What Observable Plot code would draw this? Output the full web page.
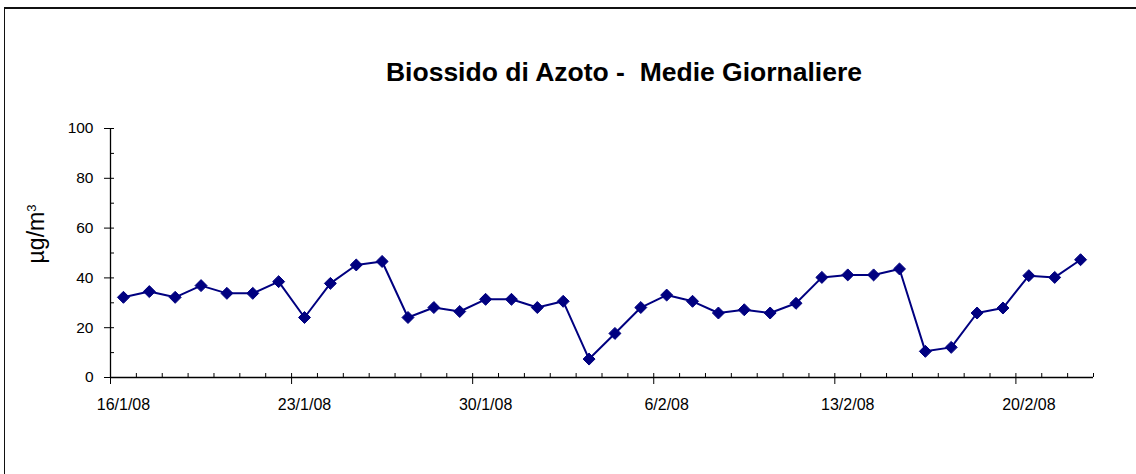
<!DOCTYPE html>
<html>
<head>
<meta charset="utf-8">
<script src="https://cdn.jsdelivr.net/npm/d3@7"></script>
<script src="https://cdn.jsdelivr.net/npm/@observablehq/plot@0.6"></script>
<style>
  html, body { margin: 0; padding: 0; background: #fff; }
  #wrap { position: relative; width: 1136px; height: 474px; overflow: hidden; font-family: "Liberation Sans", Arial, sans-serif; }
  #border { position: absolute; left: 4px; top: 7px; width: 1200px; height: 600px; border-top: 2px solid #111; border-left: 1px solid #111; }
  #title { position: absolute; left: 0; width: 1248px; top: 59px; line-height: 26px; text-align: center; font-weight: bold; font-size: 26.5px; color: #000; white-space: pre; }
  #ylab { position: absolute; left: 34px; top: 234px; transform: translate(-50%, -50%) rotate(-90deg); font-size: 23px; line-height: 26px; color: #000; white-space: nowrap; }
  #chart { position: absolute; left: 0; top: 0; }
</style>
</head>
<body>
<div id="wrap">
  <div id="border"></div>
  <div id="chart"></div>
  <div id="title">Biossido di Azoto -  Medie Giornaliere</div>
  <div id="ylab">µg/m<sup style="font-size:13px;">3</sup></div>
</div>
<script>
// Dates (daily, 16/1/08 .. 22/2/08)
const startDate = "2008-01-16";
const dayCount = 38;
// NO2 daily means, µg/m3
const values = [32.2, 34.5, 32.2, 36.9, 33.8, 33.8, 38.5, 24.1, 37.8, 45.2, 46.6, 24.1,
  28.1, 26.5, 31.4, 31.4, 28.1, 30.6, 7.4, 17.7, 28.1, 33.1, 30.6, 25.9, 27.2, 25.9,
  29.8, 40.2, 41.2, 41.2, 43.6, 10.5, 12.1, 25.9, 27.9, 40.9, 40.2, 47.3];
// Y axis ticks
const yMajorTicks = [0, 20, 40, 60, 80, 100];
const yMinorTicks = [10, 30, 50, 70, 90];
// X tick labels
const xLabelDates = ["2008-01-16", "2008-01-23", "2008-01-30", "2008-02-06", "2008-02-13", "2008-02-20"];

const d0 = new Date(startDate + "T00:00Z");
const dates = d3.range(dayCount).map(i => d3.utcDay.offset(d0, i));
const data = dates.map((d, i) => ({date: d, value: values[i]}));
const labelDates = xLabelDates.map(s => new Date(s + "T00:00Z"));
// category boundaries (half a day either side of each date)
const boundaries = d3.range(dayCount + 1).map(i => d3.utcHour.offset(d3.utcDay.offset(d0, i), -12));
const majorBoundaries = labelDates.map(d => d3.utcHour.offset(d, -12));
const xDomain = [boundaries[0], boundaries[boundaries.length - 1]];

const fmt = d3.utcFormat("%-d/%-m/%y");
const navy = "#000080";

const chart = Plot.plot({
  width: 1136,
  height: 474,
  marginLeft: 110,
  marginRight: 43,
  marginTop: 128,
  marginBottom: 97,
  style: {fontFamily: '"Liberation Sans", Arial, sans-serif', fontSize: "15px", color: "#000", background: "transparent", overflow: "visible"},
  x: {type: "utc", domain: xDomain},
  y: {domain: [0, 100]},
  marks: [
    Plot.ruleY([0], {stroke: "#000", strokeWidth: 1.3}),
    Plot.ruleX([xDomain[0]], {stroke: "#000", strokeWidth: 1.3}),
    // y major ticks (crossing)
    Plot.axisY({ticks: yMajorTicks, tickSize: 10, dx: 4, tickFormat: () => "", label: null, stroke: "#000"}),
    Plot.axisY({ticks: yMajorTicks, tickSize: 0, tickPadding: 17, tickFormat: d => String(d), label: null, fontSize: 15.5}),
    // y minor ticks (inside)
    Plot.axisY({ticks: yMinorTicks, tickSize: 4, dx: 4, tickFormat: () => "", label: null, stroke: "#000"}),
    // x minor ticks (inside, every category boundary)
    Plot.axisX({ticks: boundaries, tickSize: 4, dy: -4, tickFormat: () => "", label: null, stroke: "#000"}),
    // x major ticks (outside)
    Plot.axisX({ticks: majorBoundaries, tickSize: 7, tickFormat: () => "", label: null, stroke: "#000"}),
    // x labels
    Plot.axisX({ticks: labelDates, tickSize: 0, tickPadding: 21, tickFormat: fmt, label: null, fontSize: 16}),
    Plot.line(data, {x: "date", y: "value", stroke: navy, strokeWidth: 2}),
    Plot.dot(data, {x: "date", y: "value", symbol: "diamond2", r: 5.4, fill: navy, stroke: navy, strokeWidth: 1})
  ]
});
document.getElementById("chart").appendChild(chart);
</script>
</body>
</html>
